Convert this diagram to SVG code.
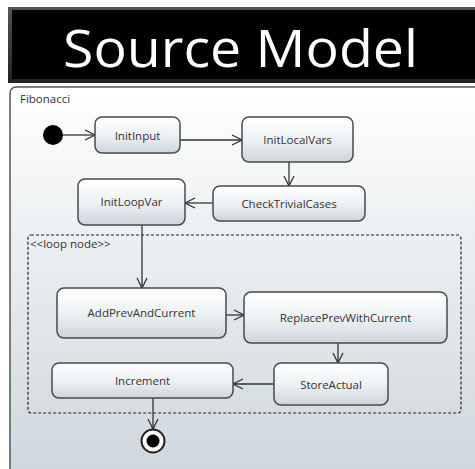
<svg xmlns="http://www.w3.org/2000/svg" width="475" height="469" viewBox="0 0 475 469">
<defs>
<linearGradient id="bg" x1="0" y1="0" x2="0" y2="1">
<stop offset="0" stop-color="#ffffff"/>
<stop offset="1" stop-color="#cdd6db"/>
</linearGradient>
<linearGradient id="nodeg" x1="0" y1="0" x2="0" y2="1">
<stop offset="0" stop-color="#ffffff"/>
<stop offset="0.5" stop-color="#eef2f4"/>
<stop offset="1" stop-color="#cdd6dc"/>
</linearGradient>
<linearGradient id="bev" x1="0" y1="0" x2="0" y2="1">
<stop offset="0" stop-color="#555"/>
<stop offset="1" stop-color="#222"/>
</linearGradient>
<marker id="arr" viewBox="0 0 12 12" refX="11" refY="6" markerWidth="12" markerHeight="12" markerUnits="userSpaceOnUse" orient="auto">
<path d="M1,1 L11,6 L1,11" fill="none" stroke="#333" stroke-width="1.3"/>
</marker>
</defs>
<style>
.node rect{fill:url(#nodeg);stroke:#4a4a4a;stroke-width:1.5}
.node text{font-family:"Open Sans","Noto Sans",sans-serif;font-size:11.5px;fill:#333;text-anchor:middle}
.conn line{stroke:#333;stroke-width:1.3;marker-end:url(#arr)}
.lbl{font-family:"Open Sans","Noto Sans",sans-serif;font-size:11.5px;fill:#333}
</style>
<rect width="475" height="469" fill="#ffffff"/>
<g id="title">
<rect x="8" y="7" width="470" height="76" fill="url(#bev)"/>
<rect x="12" y="10" width="470" height="69" fill="#000"/>
<text x="63" y="67" font-family="Open Sans, Noto Sans, sans-serif" font-size="51" fill="#fff" textLength="355" lengthAdjust="spacingAndGlyphs">Source Model</text>
</g>
<g id="frame">
<rect x="10" y="87" width="480" height="400" rx="6" fill="url(#bg)" stroke="#555" stroke-width="1.5"/>
<text class="lbl" x="20" y="103">Fibonacci</text>
</g>
<g id="loop">
<rect x="28" y="235" width="433" height="178" rx="3" fill="none" stroke="#222" stroke-width="1.2" stroke-dasharray="3,2"/>
<text class="lbl" x="30" y="248">&lt;&lt;loop node&gt;&gt;</text>
</g>
<g class="conn" id="connectors">
<line x1="63" y1="135" x2="95" y2="135"/>
<line x1="180" y1="140" x2="242" y2="140"/>
<line x1="289" y1="162" x2="289" y2="186"/>
<line x1="213" y1="203" x2="185" y2="203"/>
<line x1="142" y1="225" x2="142" y2="288"/>
<line x1="226" y1="315" x2="244" y2="315"/>
<line x1="338" y1="343" x2="338" y2="363"/>
<line x1="274" y1="384" x2="233" y2="384"/>
<line x1="153" y1="398" x2="153" y2="429"/>
</g>
<g id="initial"><circle cx="53" cy="135" r="10" fill="#000"/></g>
<g class="node" id="InitInput"><rect x="95" y="117" width="85" height="36" rx="7"/><text x="137.5" y="139.5">InitInput</text></g>
<g class="node" id="InitLocalVars"><rect x="242" y="117" width="111" height="45" rx="7"/><text x="297.5" y="144">InitLocalVars</text></g>
<g class="node" id="CheckTrivialCases"><rect x="213" y="186" width="152" height="35" rx="7"/><text x="289" y="208">CheckTrivialCases</text></g>
<g class="node" id="InitLoopVar"><rect x="78" y="179" width="107" height="46" rx="7"/><text x="131.5" y="206">InitLoopVar</text></g>
<g class="node" id="AddPrevAndCurrent"><rect x="57" y="288" width="169" height="50" rx="7"/><text x="141.5" y="317">AddPrevAndCurrent</text></g>
<g class="node" id="ReplacePrevWithCurrent"><rect x="244" y="292" width="203" height="51" rx="7"/><text x="345.5" y="322">ReplacePrevWithCurrent</text></g>
<g class="node" id="StoreActual"><rect x="274" y="363" width="114" height="42" rx="7"/><text x="331" y="389">StoreActual</text></g>
<g class="node" id="Increment"><rect x="52" y="363" width="181" height="35" rx="7"/><text x="142.5" y="385">Increment</text></g>
<g id="final"><circle cx="153" cy="441" r="11.5" fill="#fff" stroke="#222" stroke-width="2"/><circle cx="153" cy="441" r="6.5" fill="#000"/></g>
</svg>
